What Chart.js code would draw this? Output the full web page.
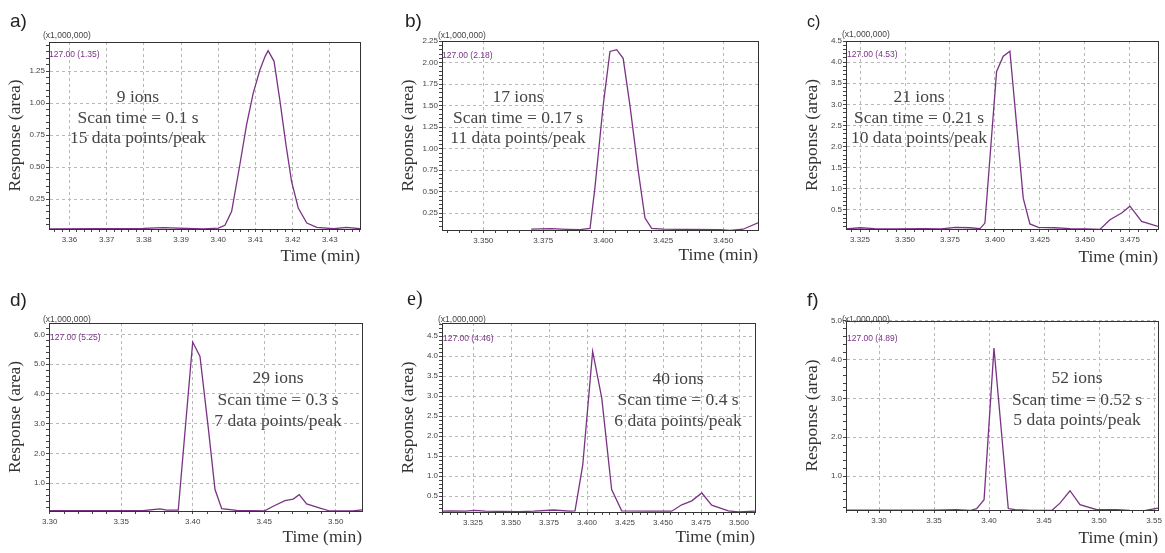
<!DOCTYPE html>
<html>
<head>
<meta charset="utf-8">
<script src="https://cdn.jsdelivr.net/npm/chart.js@4.4.1/dist/chart.umd.min.js"></script>
<style>
  html, body { margin: 0; padding: 0; background: #fff; }
  #page { position: relative; width: 1165px; height: 553px; overflow: hidden; background: #fff; }
  #page canvas { position: absolute; }
</style>
</head>
<body>
<div id="page"></div>
<script>
// ---- values (x = time in min, y = response x 1,000,000) ----
var timeA = [3.3545, 3.3798, 3.3852, 3.3915, 3.3960, 3.4000, 3.4018, 3.4036, 3.4058, 3.4076, 3.4094, 3.4112, 3.4126, 3.4134, 3.4150, 3.4166, 3.4182, 3.4197, 3.4215, 3.4238, 3.4265, 3.4310, 3.4345, 3.4381];
var respA = [0.016, 0.020, 0.027, 0.020, 0.016, 0.023, 0.045, 0.154, 0.518, 0.830, 1.078, 1.260, 1.365, 1.409, 1.326, 1.013, 0.674, 0.388, 0.180, 0.063, 0.029, 0.018, 0.029, 0.018];

var timeB = [3.3700, 3.3780, 3.3850, 3.3903, 3.3945, 3.3965, 3.4000, 3.4028, 3.4056, 3.4083, 3.4111, 3.4146, 3.4174, 3.4202, 3.4250, 3.4350, 3.4487, 3.4528, 3.4583, 3.4645];
var respB = [0.065, 0.072, 0.064, 0.060, 0.075, 0.540, 1.510, 2.130, 2.150, 2.050, 1.510, 0.740, 0.195, 0.075, 0.066, 0.062, 0.060, 0.050, 0.065, 0.140];

var timeC = [3.3172, 3.3250, 3.3330, 3.3450, 3.3600, 3.3700, 3.3780, 3.3860, 3.3917, 3.3944, 3.4009, 3.4046, 3.4083, 3.4157, 3.4194, 3.4241, 3.4330, 3.4417, 3.4500, 3.4583, 3.4639, 3.4704, 3.4750, 3.4815, 3.4906];
var respC = [0.05, 0.08, 0.06, 0.05, 0.06, 0.05, 0.09, 0.08, 0.06, 0.19, 3.78, 4.14, 4.26, 0.78, 0.17, 0.09, 0.08, 0.06, 0.05, 0.04, 0.27, 0.43, 0.59, 0.23, 0.11];

var timeD = [3.2995, 3.3400, 3.3650, 3.3771, 3.3818, 3.3899, 3.4000, 3.4051, 3.4109, 3.4156, 3.4203, 3.4308, 3.4500, 3.4563, 3.4645, 3.4703, 3.4745, 3.4797, 3.4890, 3.4960, 3.5120, 3.5184];
var respD = [0.08, 0.08, 0.08, 0.14, 0.10, 0.10, 5.74, 5.26, 2.86, 0.79, 0.15, 0.09, 0.07, 0.23, 0.42, 0.47, 0.62, 0.31, 0.17, 0.07, 0.07, 0.11];

var timeE = [3.3046, 3.3100, 3.3200, 3.3260, 3.3330, 3.3550, 3.3650, 3.3780, 3.3888, 3.3921, 3.3972, 3.4037, 3.4097, 3.4162, 3.4228, 3.4426, 3.4557, 3.4623, 3.4689, 3.4755, 3.4820, 3.4930, 3.4996, 3.5105];
var respE = [0.12, 0.13, 0.12, 0.14, 0.12, 0.11, 0.12, 0.15, 0.12, 0.13, 1.28, 4.12, 2.95, 0.66, 0.13, 0.12, 0.12, 0.28, 0.38, 0.575, 0.27, 0.13, 0.10, 0.12];

var timeF = [3.2700, 3.3200, 3.3500, 3.3700, 3.3827, 3.3888, 3.3955, 3.4045, 3.4175, 3.4236, 3.4388, 3.4570, 3.4645, 3.4736, 3.4827, 3.4979, 3.5160, 3.5280, 3.5400, 3.5536];
var respF = [0.12, 0.12, 0.12, 0.13, 0.11, 0.16, 0.39, 4.30, 0.16, 0.13, 0.11, 0.11, 0.30, 0.62, 0.26, 0.13, 0.13, 0.11, 0.10, 0.17];

// tick labels
var xLabelsA = ['3.36', '3.37', '3.38', '3.39', '3.40', '3.41', '3.42', '3.43'];
var yLabelsA = ['0.25', '0.50', '0.75', '1.00', '1.25'];
var xLabelsB = ['3.350', '3.375', '3.400', '3.425', '3.450'];
var yLabelsB = ['0.25', '0.50', '0.75', '1.00', '1.25', '1.50', '1.75', '2.00', '2.25'];
var xLabelsC = ['3.325', '3.350', '3.375', '3.400', '3.425', '3.450', '3.475'];
var yLabelsC = ['0.5', '1.0', '1.5', '2.0', '2.5', '3.0', '3.5', '4.0', '4.5'];
var xLabelsD = ['3.30', '3.35', '3.40', '3.45', '3.50'];
var yLabelsD = ['1.0', '2.0', '3.0', '4.0', '5.0', '6.0'];
var xLabelsE = ['3.325', '3.350', '3.375', '3.400', '3.425', '3.450', '3.475', '3.500'];
var yLabelsE = ['0.5', '1.0', '1.5', '2.0', '2.5', '3.0', '3.5', '4.0', '4.5'];
var xLabelsF = ['3.30', '3.35', '3.40', '3.45', '3.50', '3.55'];
var yLabelsF = ['1.0', '2.0', '3.0', '4.0', '5.0'];

// annotations
var notesA = ['9 ions', 'Scan time = 0.1 s', '15 data points/peak'];
var notesB = ['17 ions', 'Scan time = 0.17 s', '11 data points/peak'];
var notesC = ['21 ions', 'Scan time = 0.21 s', '10 data points/peak'];
var notesD = ['29 ions', 'Scan time = 0.3 s', '7 data points/peak'];
var notesE = ['40 ions', 'Scan time = 0.4 s', '6 data points/peak'];
var notesF = ['52 ions', 'Scan time = 0.52 s', '5 data points/peak'];
var peakTags = ['127.00 (1.35)', '127.00 (2.18)', '127.00 (4.53)', '127.00 (5.25)', '127.00 (4.46)', '127.00 (4.89)'];
var panelTags = ['a)', 'b)', 'c)', 'd)', 'e)', 'f)'];

var LINE = '#7a3384';
var GRID = '#b8b8b8';
var INK = '#333';
var SANS = '"Liberation Sans", Arial, sans-serif';
var SERIF = '"Liberation Serif", "Times New Roman", serif';
var Y_AXIS_W = 42;

// layout of each panel (page pixels)
var panels = [
  { org: [0, 0, 385, 280], box: [49, 42, 360, 229], t: timeA, r: respA, xr: [3.3545, 3.4381], yr: [0.016, 1.477],
    xl: xLabelsA, yl: yLabelsA, xs: 0.002, ys: 0.05, notes: notesA, noteX: 138, noteY: [97, 118, 138],
    tagPos: [10, 22], tagFont: '19px ' + SANS, peakPos: [49, 55], scalePos: [43, 36], titleY: 256 },
  { org: [390, 0, 385, 280], box: [442, 41, 758, 230], t: timeB, r: respB, xr: [3.3328, 3.4645], yr: [0.056, 2.251],
    xl: xLabelsB, yl: yLabelsB, xs: 0.005, ys: 0.05, notes: notesB, noteX: 518, noteY: [97, 118, 138],
    tagPos: [405, 22], tagFont: '19px ' + SANS, peakPos: [442, 56], scalePos: [438, 36], titleY: 255 },
  { org: [780, 0, 385, 280], box: [846, 41, 1158, 229], t: timeC, r: respC, xr: [3.3172, 3.4906], yr: [0.05, 4.5],
    xl: xLabelsC, yl: yLabelsC, xs: 0.005, ys: 0.1, notes: notesC, noteX: 919, noteY: [97, 118, 138],
    tagPos: [807, 23], tagFont: '16px ' + SANS, peakPos: [847, 55], scalePos: [842, 35], titleY: 257 },
  { org: [0, 280, 385, 273], box: [49, 323, 362, 511], t: timeD, r: respD, xr: [3.2995, 3.5184], yr: [0.07, 6.38],
    xl: xLabelsD, yl: yLabelsD, xs: 0.01, ys: 0.2, notes: notesD, noteX: 278, noteY: [378, 400, 421],
    tagPos: [10, 301], tagFont: '19px ' + SANS, peakPos: [50, 338], scalePos: [43, 320], titleY: 537 },
  { org: [390, 280, 385, 273], box: [442, 323, 755, 512], t: timeE, r: respE, xr: [3.3046, 3.5105], yr: [0.1, 4.83],
    xl: xLabelsE, yl: yLabelsE, xs: 0.005, ys: 0.1, notes: notesE, noteX: 678, noteY: [379, 400, 421],
    tagPos: [407, 300], tagFont: '20px ' + SERIF, peakPos: [443, 339], scalePos: [438, 320], titleY: 537 },
  { org: [780, 280, 385, 273], box: [846, 321, 1158, 510], t: timeF, r: respF, xr: [3.2700, 3.5536], yr: [0.123, 5.0],
    xl: xLabelsF, yl: yLabelsF, xs: 0.01, ys: 0.2, notes: notesF, noteX: 1077, noteY: [378, 400, 420],
    tagPos: [807, 301], tagFont: '19px ' + SANS, peakPos: [847, 339], scalePos: [842, 320], titleY: 538 }
];

// labelled major ticks plus unlabelled minor ones
function makeTicks(labels, step, min, max) {
  var majors = labels.map(parseFloat);
  var vals = [];
  var v;
  for (v = majors[0]; v >= min - step * 1e-3; v -= step) vals.unshift(v);
  for (v = majors[0] + step; v <= max + step * 1e-3; v += step) vals.push(v);
  return vals.map(function (val) {
    var k = majors.findIndex(function (m) { return Math.abs(m - val) < step / 10; });
    return { value: val, txt: k >= 0 ? labels[k] : '' };
  });
}

function gridColor(c) {
  return c.tick && c.tick.txt ? GRID : 'rgba(0,0,0,0)';
}

function textPlugin(p, i) {
  return {
    id: 'panelText',
    afterDraw: function (chart) {
      var ctx = chart.ctx, a = chart.chartArea;
      var ox = p.org[0], oy = p.org[1];
      ctx.save();
      // frame round the plot
      ctx.strokeStyle = INK;
      ctx.lineWidth = 1;
      ctx.strokeRect(a.left + 0.5, a.top + 0.5, a.right - a.left, a.bottom - a.top);

      ctx.textBaseline = 'middle';
      ctx.textAlign = 'left';
      ctx.fillStyle = '#222';
      ctx.font = p.tagFont;
      ctx.fillText(panelTags[i], p.tagPos[0] - ox, p.tagPos[1] - oy);

      ctx.fillStyle = '#444';
      ctx.font = '8.5px ' + SANS;
      ctx.fillText('(x1,000,000)', p.scalePos[0] - ox, p.scalePos[1] - oy);

      ctx.fillStyle = LINE;
      ctx.font = '8.5px ' + SANS;
      ctx.fillText(peakTags[i], p.peakPos[0] - ox, p.peakPos[1] - oy);

      ctx.fillStyle = '#454545';
      ctx.textAlign = 'center';
      ctx.font = '17.5px ' + SERIF;
      p.notes.forEach(function (line, k) {
        ctx.fillText(line, p.noteX - ox, p.noteY[k] - oy);
      });
      ctx.restore();
    }
  };
}

var page = document.getElementById('page');

panels.forEach(function (p, i) {
  var cv = document.createElement('canvas');
  cv.width = p.org[2];
  cv.height = p.org[3];
  cv.style.left = p.org[0] + 'px';
  cv.style.top = p.org[1] + 'px';
  cv.style.width = p.org[2] + 'px';
  cv.style.height = p.org[3] + 'px';
  page.appendChild(cv);

  var padBottom = p.org[1] + p.org[3] - p.titleY - 8.75;
  var xAxisH = p.org[1] + p.org[3] - padBottom - p.box[3];

  var points = p.t.map(function (x, k) { return { x: x, y: p.r[k] }; });

  var tickFont = { family: SANS, size: 8 };
  var titleFont = { family: SERIF, size: 17.5, lineHeight: 1 };

  new Chart(cv.getContext('2d'), {
    type: 'line',
    data: {
      datasets: [{
        data: points,
        borderColor: LINE,
        borderWidth: 1.3,
        pointRadius: 0,
        tension: 0,
        fill: false
      }]
    },
    options: {
      responsive: false,
      animation: false,
      events: [],
      layout: {
        padding: {
          left: p.box[0] - p.org[0] - Y_AXIS_W,
          top: p.box[1] - p.org[1],
          right: p.org[0] + p.org[2] - p.box[2],
          bottom: padBottom
        }
      },
      plugins: { legend: { display: false }, tooltip: { enabled: false } },
      scales: {
        x: {
          type: 'linear',
          min: p.xr[0],
          max: p.xr[1],
          afterBuildTicks: function (s) { s.ticks = makeTicks(p.xl, p.xs, p.xr[0], p.xr[1]); },
          afterFit: function (s) { s.height = xAxisH; },
          ticks: {
            autoSkip: false, maxRotation: 0, minRotation: 0, padding: 3,
            color: '#444', font: tickFont,
            callback: function (v, k, ticks) { return ticks[k].txt; }
          },
          grid: { color: gridColor, tickColor: '#444', tickLength: 3, lineWidth: 1 },
          border: { display: true, color: INK, width: 1, dash: [3, 3] },
          title: { display: true, text: 'Time (min)', align: 'end', color: INK, font: titleFont, padding: 0 }
        },
        y: {
          type: 'linear',
          min: p.yr[0],
          max: p.yr[1],
          afterBuildTicks: function (s) { s.ticks = makeTicks(p.yl, p.ys, p.yr[0], p.yr[1]); },
          afterFit: function (s) { s.width = Y_AXIS_W; },
          ticks: {
            autoSkip: false, padding: 1,
            color: '#444', font: tickFont,
            callback: function (v, k, ticks) { return ticks[k].txt; }
          },
          grid: { color: gridColor, tickColor: '#444', tickLength: 3, lineWidth: 1 },
          border: { display: true, color: INK, width: 1, dash: [3, 3] },
          title: { display: true, text: 'Response (area)', color: INK, font: titleFont, padding: 0 }
        }
      }
    },
    plugins: [textPlugin(p, i)]
  });
});
</script>
</body>
</html>
